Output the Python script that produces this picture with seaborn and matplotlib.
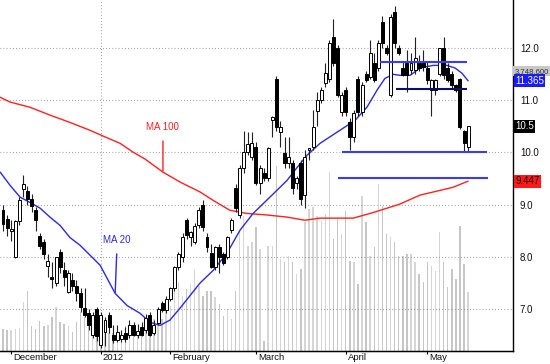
import matplotlib
matplotlib.use("Agg")
import matplotlib.pyplot as plt
import matplotlib.transforms as mtransforms
import seaborn as sns

# daily candles, Dec 2011 - May 2012
opens = [8.90, 8.72, 8.50, 7.99, 8.68, 9.30, 9.25, 9.10, 8.90, 8.40,
         8.28, 7.82, 7.60, 7.50, 8.10, 7.75, 7.32, 7.55, 7.45, 7.30,
         7.02, 6.92, 6.50, 7.00, 6.31, 6.56, 6.88, 6.50, 6.41, 6.43,
         6.55, 6.50, 6.69, 6.50, 6.65, 6.60, 6.88, 6.55, 6.73, 7.11,
         6.98, 7.19, 7.40, 7.80, 7.99, 8.70, 8.37, 8.28, 8.60, 8.99,
         8.37, 8.07, 7.80, 8.18, 8.05, 7.99, 8.51, 9.31, 8.80, 9.69,
         10.00, 9.90, 10.10, 9.41, 9.60, 9.50, 10.61, 11.40, 10.38, 9.98,
         9.79, 9.79, 9.41, 9.79, 9.18, 10.05, 10.10, 10.78, 10.99, 11.32,
         11.40, 12.20, 11.99, 10.76, 11.19, 10.57, 10.29, 11.40, 10.76, 11.49,
         11.43, 11.70, 11.61, 12.49, 11.99, 11.09, 12.68, 11.99, 11.61, 11.70,
         11.57, 11.57, 11.70, 11.70, 11.61, 11.19, 11.19, 11.49, 11.99, 11.61,
         11.49, 11.28, 11.40, 10.40, 10.10]
highs = [9.00, 8.80, 8.70, 8.70, 9.15, 9.56, 9.35, 9.20, 8.95, 8.45,
         8.35, 8.05, 7.90, 8.00, 8.15, 7.90, 7.75, 7.70, 7.55, 7.40,
         7.40, 7.00, 6.95, 7.05, 6.95, 6.85, 6.95, 6.70, 6.70, 6.60,
         6.65, 6.80, 6.75, 6.72, 6.75, 6.90, 6.95, 6.80, 7.05, 7.15,
         7.25, 7.42, 7.82, 8.10, 8.45, 8.75, 8.50, 8.65, 8.95, 9.08,
         8.45, 8.25, 8.20, 8.25, 8.10, 8.40, 8.75, 9.40, 9.75, 10.40,
         10.38, 10.38, 10.20, 9.75, 9.70, 10.10, 10.70, 11.45, 10.60, 10.30,
         10.30, 9.85, 9.55, 9.85, 10.05, 10.08, 10.80, 11.15, 11.25, 11.70,
         12.15, 12.55, 12.05, 11.15, 11.25, 10.65, 10.80, 11.45, 11.35, 11.55,
         12.15, 11.90, 12.15, 12.60, 12.05, 12.65, 12.80, 12.05, 11.75, 11.95,
         11.90, 12.20, 11.85, 11.95, 11.75, 11.40, 11.40, 12.00, 12.20, 11.70,
         11.55, 11.30, 11.42, 10.42, 10.50]
lows = [8.50, 8.40, 8.30, 7.98, 8.60, 9.15, 9.00, 8.85, 8.50, 8.15,
        7.95, 7.62, 7.40, 7.45, 7.70, 7.45, 7.30, 7.35, 7.15, 6.95,
        6.85, 6.60, 6.45, 6.40, 6.25, 6.30, 6.55, 6.35, 6.38, 6.38,
        6.38, 6.45, 6.48, 6.45, 6.48, 6.55, 6.48, 6.50, 6.70, 6.95,
        6.92, 7.15, 7.35, 7.75, 7.90, 8.35, 8.20, 8.25, 8.55, 8.50,
        8.10, 7.78, 7.75, 7.70, 7.85, 7.95, 8.45, 8.85, 8.75, 9.60,
        9.95, 9.85, 9.38, 9.20, 9.45, 9.45, 10.30, 10.40, 10.10, 9.70,
        9.70, 9.20, 9.30, 8.99, 8.93, 9.85, 10.05, 10.50, 10.95, 11.25,
        11.35, 11.65, 11.05, 10.70, 10.70, 10.04, 10.20, 10.70, 10.70, 11.35,
        11.40, 11.35, 11.55, 12.00, 11.85, 11.05, 12.00, 11.85, 11.45, 11.15,
        11.50, 11.50, 11.55, 11.55, 11.30, 10.70, 11.10, 11.45, 11.40, 11.35,
        11.20, 11.15, 10.45, 10.00, 10.00]
closes = [8.62, 8.55, 8.52, 8.68, 9.08, 9.40, 9.10, 8.98, 8.70, 8.20,
          8.05, 7.92, 7.58, 8.00, 7.80, 7.62, 7.70, 7.45, 7.30, 7.05,
          6.88, 6.69, 6.88, 6.48, 6.88, 6.79, 6.65, 6.41, 6.56, 6.50,
          6.42, 6.69, 6.50, 6.58, 6.50, 6.83, 6.50, 6.70, 7.00, 6.98,
          7.19, 7.40, 7.80, 8.05, 8.37, 8.41, 8.47, 8.59, 8.89, 8.57,
          8.18, 7.80, 8.18, 7.99, 7.88, 8.37, 8.70, 8.93, 9.69, 10.00,
          10.15, 10.17, 9.41, 9.69, 9.50, 10.08, 10.67, 10.48, 10.48, 9.79,
          9.90, 9.31, 9.50, 9.10, 9.90, 10.06, 10.48, 10.99, 11.19, 11.51,
          12.08, 11.70, 11.09, 11.09, 10.76, 10.29, 10.75, 10.76, 11.28, 11.38,
          11.89, 11.38, 12.08, 12.08, 11.89, 12.58, 12.08, 11.89, 11.47, 11.47,
          11.70, 11.80, 11.61, 11.62, 11.38, 11.38, 11.38, 11.99, 11.47, 11.38,
          11.28, 11.19, 10.48, 10.17, 10.50]
volume = [22, 21, 21, 22, 23, 49, 60, 25, 22, 30,
          25, 26, 34, 44, 29, 27, 25, 19, 29, 39,
          34, 32, 27, 20, 24, 19, 18, 18, 18, 19,
          25, 22, 20, 20, 22, 25, 30, 32, 35, 32,
          40, 45, 62, 69, 55, 62, 67, 82, 65, 55,
          60, 60, 54, 47, 35, 42, 32, 60, 120, 135,
          105, 109, 124, 102, 10, 105, 105, 185, 92, 89,
          95, 89, 77, 82, 129, 142, 144, 135, 130, 137,
          179, 112, 132, 117, 140, 90, 89, 67, 155, 129,
          95, 104, 167, 145, 117, 114, 109, 95, 95, 97,
          97, 89, 77, 69, 89, 85, 80, 119, 89, 64,
          82, 72, 125, 87, 59]

# moving averages (day index, price)
ma20_idx = [-0.7, 1.7, 4.2, 6.6, 9.1, 11.5, 14.0, 16.4, 18.9, 23.8, 27.5, 30.4, 33.6, 36.0,
            38.5, 40.9, 43.4, 48.3, 51.5, 54.9, 58.1, 61.3, 65.4, 69.6, 72.1, 74.5, 77.7,
            82.6, 86.3, 89.2, 91.7, 93.6, 95.6, 97.3, 99.8, 102.2, 105.4, 108.8, 110.8, 112.5, 114.0]
ma20_val = [9.62, 9.37, 9.14, 9.04, 8.93, 8.76, 8.60, 8.37, 8.22, 7.84, 7.30, 7.07, 6.92, 6.75,
            6.69, 6.79, 7.02, 7.50, 7.74, 8.07, 8.51, 8.83, 9.14, 9.46, 9.71, 9.94, 10.17,
            10.42, 10.61, 10.86, 11.19, 11.41, 11.49, 11.47, 11.47, 11.61, 11.66, 11.66, 11.61, 11.51, 11.365]
ma100_idx = [-0.7, 1.7, 6.6, 11.5, 16.4, 21.3, 24.5, 28.7, 31.9, 34.8, 39.2, 43.4, 48.3, 51.5,
             55.6, 59.8, 64.7, 69.6, 74.0, 77.7, 85.8, 90.0, 94.1, 97.3, 102.2, 107.1, 110.3, 114.0]
ma100_val = [11.05, 10.96, 10.86, 10.71, 10.57, 10.42, 10.31, 10.17, 10.00, 9.87, 9.62, 9.43, 9.24, 9.08,
             8.89, 8.83, 8.80, 8.76, 8.70, 8.74, 8.74, 8.83, 8.93, 9.01, 9.18, 9.27, 9.33, 9.447]

# drawn support / resistance lines
level_price = [11.72, 11.20, 10.00, 9.50]
level_start = [92.4, 96.3, 83.1, 82.1]
level_end = [113.7, 113.7, 118.6, 118.9]
level_color = ["#3a3aff", "#101060", "#3a3aff", "#3a3aff"]

month_idx = [2, 24, 41, 62, 84, 104]
month_names = ["December", "2012", "February", "March", "April", "May"]
price_ticks = [7.0, 8.0, 9.0, 10.0, 11.0, 12.0]
volume_label = "3,748,600"

sns.set_style("white")
plt.rcParams["font.family"] = ["Liberation Sans", "DejaVu Sans"]

fig = plt.figure(figsize=(5.5, 3.64), dpi=100)
ax_vol = fig.add_axes([0, 13 / 364, 513 / 550, 351 / 364])
ax = ax_vol.twinx()
ax.patch.set_visible(False)

# volume bars behind the candles
n = len(closes)
idx = list(range(n))
vol_colors = ["#d6d6d6" if closes[i] >= opens[i] else "#c6c6c6" for i in idx]
ax_vol.bar(idx, volume, width=0.36, color=vol_colors, linewidth=0)
ax_vol.set_ylim(0, 351)
ax_vol.set_yticks([])

xmin, xmax = -0.735, 125.0
ax_vol.set_xlim(xmin, xmax)
ax.set_ylim(6.20, 12.91)

# month ticks along the bottom
ax_vol.set_xticks(month_idx)
ax_vol.set_xticklabels(month_names, fontsize=6.8, ha="left", color="#111111")
ax_vol.tick_params(axis="x", length=2.5, width=0.8, pad=0, direction="out", color="black",
                   bottom=True, labelbottom=True)
offset = mtransforms.ScaledTranslation(2 / 100, 1 / 100, fig.dpi_scale_trans)
for lbl in ax_vol.get_xticklabels():
    lbl.set_transform(lbl.get_transform() + offset)

# grid
for p in price_ticks:
    ax.axhline(p, color="#7a7a7a", lw=0.8, ls=(0, (0.6, 2.2)), zorder=0)
ax.axvline(month_idx[1], color="#7a7a7a", lw=0.8, ls=(0, (0.6, 2.2)), zorder=0)

# moving averages
sns.lineplot(x=ma100_idx, y=ma100_val, ax=ax, color="#ff2020", lw=1.0, zorder=2)
sns.lineplot(x=ma20_idx, y=ma20_val, ax=ax, color="#2a2ae0", lw=1.0, zorder=2)

# candles
ax.vlines(idx, lows, highs, color="#222222", lw=0.8, zorder=3)
bodies = [max(abs(c - o), 0.03) for o, c in zip(opens, closes)]
bottoms = [min(o, c) for o, c in zip(opens, closes)]
fills = ["white" if c >= o else "black" for o, c in zip(opens, closes)]
ax.bar(idx, bodies, bottom=bottoms, width=0.72, color=fills, edgecolor="black", linewidth=0.7, zorder=4)

# support / resistance
for p, s, e, c in zip(level_price, level_start, level_end, level_color):
    ax.hlines(p, s, e, color=c, lw=1.5, zorder=5)

# labels for the MAs
ax.annotate("MA 100", xy=(39.2, 9.64), xytext=(39.2, 10.48), color="#ff2020", fontsize=7,
            ha="center", va="center",
            arrowprops=dict(arrowstyle="-", color="#ff2020", lw=1, shrinkA=4, shrinkB=0))
ax.annotate("MA 20", xy=(27.5, 7.32), xytext=(28.0, 8.32), color="#2a2ae0", fontsize=7,
            ha="center", va="center",
            arrowprops=dict(arrowstyle="-", color="#2a2ae0", lw=1, shrinkA=4, shrinkB=0))
ax.set_xlim(xmin, xmax)

# axes cosmetics
for side in ["left", "top"]:
    ax.spines[side].set_visible(False)
    ax_vol.spines[side].set_visible(False)
ax.spines["right"].set_color("black")
ax.spines["bottom"].set_color("black")
ax.spines["right"].set_linewidth(1)
ax.spines["bottom"].set_linewidth(1)
ax_vol.spines["right"].set_visible(False)
ax_vol.spines["bottom"].set_color("black")

ax.set_yticks(price_ticks)
ax.set_yticklabels([f"{p:.1f}" for p in price_ticks], fontsize=7, color="#111111")
ax.tick_params(axis="y", length=0, pad=5)

# value boxes on the right
trans = mtransforms.blended_transform_factory(ax.transAxes, ax.transData)
box_kw = dict(boxstyle="square,pad=0.15", linewidth=0)
ax.text(1.003, 11.55, volume_label, transform=trans, fontsize=5.6, color="#333333", va="center",
        ha="left", bbox=dict(facecolor="#c8c8c8", **box_kw), clip_on=False)
ax.text(1.004, ma20_val[-1], f"{ma20_val[-1]:.3f}", transform=trans, fontsize=7, color="white",
        va="center", ha="left", bbox=dict(facecolor="#1a1aff", **box_kw), clip_on=False)
ax.text(1.004, closes[-1], f"{closes[-1]:.1f}", transform=trans, fontsize=7, color="white",
        va="center", ha="left", bbox=dict(facecolor="black", **box_kw), clip_on=False)
ax.text(1.004, ma100_val[-1], f"{ma100_val[-1]:.3f}", transform=trans, fontsize=7, color="#220000",
        va="center", ha="left", bbox=dict(facecolor="#ff1a1a", **box_kw), clip_on=False)

fig.savefig("out.png", dpi=100)
